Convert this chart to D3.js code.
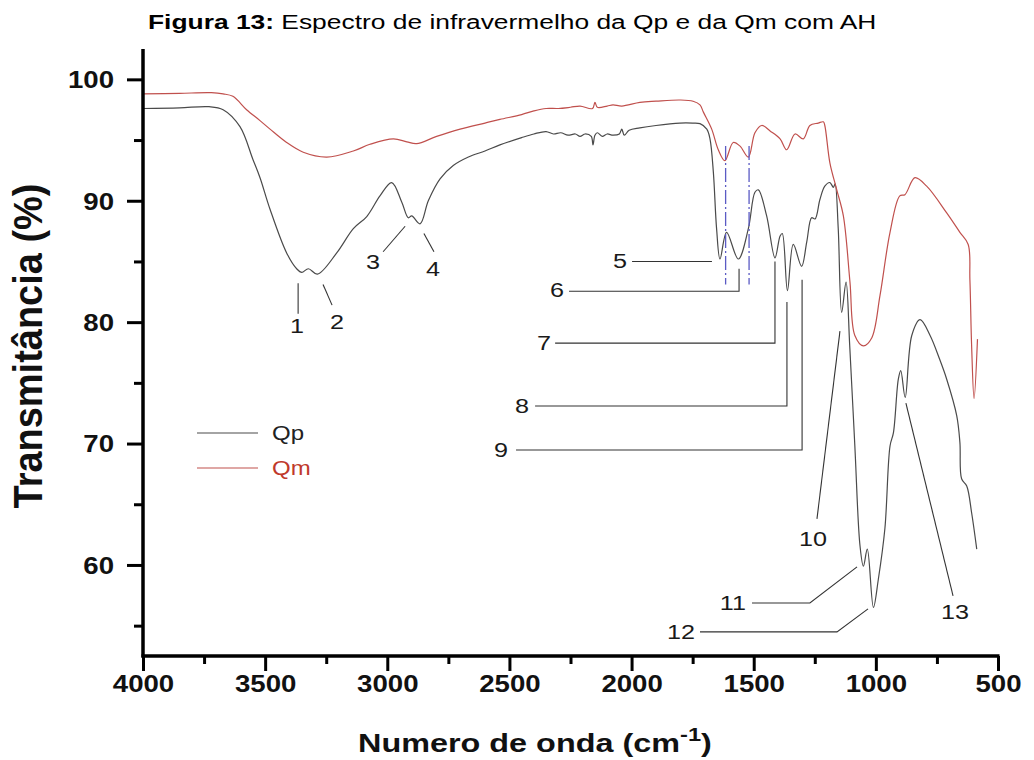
<!DOCTYPE html>
<html><head><meta charset="utf-8">
<script src="https://cdn.jsdelivr.net/npm/d3@7/dist/d3.min.js"></script>
<style>
body{margin:0;background:#fff}
text{font-family:"Liberation Sans",Arial,Helvetica,sans-serif}
</style>
</head><body>
<svg id="chart" width="1034" height="760"></svg>
<script>
// ---------------- DATA ----------------
const qpWave = [4000,3850,3730,3672,3603,3550,3521,3480,3412,3371,3350,3323,3286,3207,3139,3084,3030,2982,2941,2914,2900,2866,2832,2784,2730,2668,2600,2539,2450,2400,2350,2320,2290,2260,2230,2211,2190,2165,2158,2150,2140,2120,2100,2076,2050,2040,2030,2010,1966,1900,1802,1750,1720,1692,1679,1665,1652,1638,1611,1563,1522,1495,1481,1447,1413,1392,1383,1362,1338,1304,1283,1263,1249,1229,1209,1188,1174,1167,1154,1140,1122,1107,1086,1065,1051,1035,1010,990,963,942,928,908,898,880,853,819,778,740,710,669,656,649,628,608,587];
const qpT    = [97.6,97.65,97.75,97.5,96.1,93.4,91.9,89.3,85.7,84.4,84.1,84.4,83.95,85.7,87.7,88.7,90.4,91.5,89.9,88.6,88.75,88.1,90.0,91.8,92.9,93.6,94.1,94.6,95.2,95.5,95.7,95.5,95.6,95.4,95.5,95.3,95.5,95.3,94.6,95.4,95.6,95.3,95.5,95.4,95.5,95.9,95.4,95.8,96.0,96.2,96.4,96.4,96.35,95.9,95.1,92.3,87.7,85.2,87.4,85.2,87.7,90.7,90.9,88.75,85.3,87.1,87.3,82.6,86.4,84.6,86.6,88.6,88.5,90.1,91.2,91.5,91.1,91.4,87.7,80.8,83.3,78.05,69.8,61.6,59.9,61.3,56.5,58.8,63.0,69.8,70.9,75.3,76.0,73.8,78.9,80.2,78.9,77.0,75.3,72.3,70.1,67.1,66.5,64.3,61.3];

const qmWave = [4000,3850,3720,3672,3632,3576,3521,3480,3412,3344,3248,3139,3071,2975,2920,2880,2798,2702,2600,2539,2450,2400,2350,2300,2250,2211,2160,2150,2140,2100,2076,2040,1966,1900,1802,1748,1720,1706,1672,1645,1618,1584,1556,1522,1495,1467,1433,1392,1365,1331,1297,1270,1236,1215,1209,1188,1160,1133,1106,1086,1051,1017,983,942,902,881,840,792,710,656,622,615,608,598,584];
const qmT    = [98.8,98.85,98.9,98.8,98.6,97.5,96.6,95.9,94.8,94.0,93.6,94.1,94.65,95.1,94.85,94.7,95.3,95.9,96.4,96.7,97.1,97.4,97.6,97.6,97.7,97.8,97.6,98.1,97.7,97.8,97.9,97.8,98.1,98.2,98.3,98.2,97.9,97.3,95.9,94.2,93.3,94.8,94.5,93.6,95.6,96.2,95.75,95.1,94.2,95.5,95.1,96.2,96.4,96.5,96.2,93.1,90.9,88.75,83.3,78.9,78.05,78.7,82.2,87.4,90.4,90.5,91.9,91.2,89.0,87.4,86.4,83.5,78.05,73.7,78.6];

const seriesNames = ["Qp","Qm"];
const xTickValues = [4000,3500,3000,2500,2000,1500,1000,500];
const xMinorTicks = [3750,3250,2750,2250,1750,1250,750];
const yTickValues = [60,70,80,90,100];
const yMinorTicks = [55,65,75,85,95];
const dashWaves = [1615,1519];

// band annotations: label, leader polyline [wave,T], text anchor point [wave,T], text-anchor
const bandLabels = ["1","2","3","4","5","6","7","8","9","10","11","12","13"];
const bandLeaders = [
  [[3365,83.2],[3365,80.7]],
  [[3263,83.1],[3226,81.4]],
  [[2927,87.9],[3017,85.8]],
  [[2850,87.3],[2809,85.8]],
  [[1998,85.0],[1671,85.0]],
  [[2256,82.55],[1560,82.55],[1560,84.4]],
  [[2313,78.27],[1413,78.27],[1413,85.0]],
  [[2395,73.09],[1364,73.09],[1364,81.65]],
  [[2473,69.47],[1302,69.47],[1302,83.5]],
  [[1241,63.8],[1147,79.26]],
  [[1507,56.87],[1270,56.87],[1077,59.84]],
  [[1720,54.49],[1159,54.49],[1032,56.38]],
  [[877,73.33],[684,57.45]]
];
const bandTextPos = [[3370,79.1],[3206,79.4],[3058,84.4],[2813,83.8],[2019,84.5],[2277,82.06],[2330,77.7],[2420,72.5],[2506,68.9],[1257,61.56],[1532,56.3],[1740,53.9],[676,55.56]];
const bandAnchor = ["middle","middle","middle","middle","end","end","end","end","end","middle","end","end","middle"];

// ---------------- DRAW ----------------
const svg = d3.select("#chart");
const SX = 1.2; // horizontal stretch of the original picture's text

const x = d3.scaleLinear().domain([4000,500]).range([143,998]);
const y = d3.scaleLinear().domain([52.5,102.5]).range([656,49]);

const line = d3.line().x(d=>x(d[0])).y(d=>y(d[1])).curve(d3.curveCatmullRom.alpha(0.5));

// curves
svg.append("path").datum(qpWave.map((w,i)=>[w,qpT[i]]))
  .attr("d",line).attr("fill","none").attr("stroke","#4a4a4a").attr("stroke-width",1.2);
svg.append("path").datum(qmWave.map((w,i)=>[w,qmT[i]]))
  .attr("d",line).attr("fill","none").attr("stroke","#c0504d").attr("stroke-width",1.2);

// dashed blue markers
dashWaves.forEach(w=>{
  svg.append("line").attr("x1",x(w)).attr("x2",x(w)).attr("y1",y(94.5)).attr("y2",y(83.1))
    .attr("stroke","#5b5bc4").attr("stroke-width",1.3).attr("stroke-dasharray","14,3,2,3");
});

// annotations
const lineGen = d3.line().x(d=>x(d[0])).y(d=>y(d[1]));
bandLabels.forEach((lab,i)=>{
  svg.append("path").attr("d",lineGen(bandLeaders[i])).attr("fill","none")
    .attr("stroke","#333").attr("stroke-width",1.1);
  const p = bandTextPos[i];
  svg.append("text").attr("transform",`translate(${x(p[0])},${y(p[1])}) scale(${SX},1)`)
    .attr("text-anchor",bandAnchor[i]).attr("font-size",21).attr("fill","#1a1a1a").text(lab);
});

// axes
const axisG = svg.append("g");
const yAxis = axisG.append("g").attr("transform","translate(143,0)")
  .call(d3.axisLeft(y).tickValues(yTickValues).tickSize(16).tickPadding(13).tickFormat(d3.format("d")));
const yMinor = axisG.append("g").attr("transform","translate(143,0)")
  .call(d3.axisLeft(y).tickValues(yMinorTicks).tickSize(9).tickFormat(""));
const xAxis = axisG.append("g").attr("transform","translate(0,656)")
  .call(d3.axisBottom(x).tickValues(xTickValues).tickSize(15).tickPadding(5).tickFormat(d3.format("d")));
const xMinor = axisG.append("g").attr("transform","translate(0,656)")
  .call(d3.axisBottom(x).tickValues(xMinorTicks).tickSize(8).tickFormat(""));

[yAxis,yMinor,xAxis,xMinor].forEach(g=>{
  g.selectAll(".domain").remove();
  g.selectAll(".tick line").attr("stroke","#000").attr("stroke-width",3);
});
// axis lines
axisG.append("line").attr("x1",143).attr("x2",143).attr("y1",y(102.5)).attr("y2",657.5)
  .attr("stroke","#000").attr("stroke-width",3.5);
axisG.append("line").attr("x1",141.5).attr("x2",999.5).attr("y1",656).attr("y2",656)
  .attr("stroke","#000").attr("stroke-width",3.5);

yAxis.selectAll(".tick text").each(function(){
  const t=d3.select(this); const xx=+t.attr("x");
  t.attr("x",xx/SX).attr("transform",`scale(${SX},1)`).attr("dy","0.36em")
   .attr("font-size",23).attr("font-weight","bold").attr("fill","#111").attr("font-family",null);
});
xAxis.selectAll(".tick text").each(function(){
  const t=d3.select(this);
  t.attr("transform",`scale(${SX},1)`).attr("font-size",23).attr("font-weight","bold")
   .attr("fill","#111").attr("font-family",null);
});

// legend
const legendColors = ["#4a4a4a","#c0504d"];
const legendText = ["#222","#c0392b"];
seriesNames.forEach((n,i)=>{
  const ly = 433 + i*35;
  svg.append("line").attr("x1",197).attr("x2",258).attr("y1",ly).attr("y2",ly)
    .attr("stroke",legendColors[i]).attr("stroke-width",1.2);
  svg.append("text").attr("transform",`translate(272,${ly+7}) scale(${SX},1)`)
    .attr("font-size",20).attr("fill",legendText[i]).text(n);
});

// title
const title = svg.append("text").attr("font-size",21).attr("fill","#000");
title.append("tspan").attr("font-weight","bold").text("Figura 13:");
title.append("tspan").text(" Espectro de infravermelho da Qp e da Qm com AH");
{
  const w = title.node().getComputedTextLength();
  const s = 729 / w;
  title.attr("transform",`translate(148,29) scale(${s},1)`);
}

// x title
const xt = svg.append("text").attr("font-size",26).attr("font-weight","bold").attr("fill","#111");
xt.append("tspan").text("Numero de onda (cm");
xt.append("tspan").attr("font-size",19).attr("dy",-11).text("-1");
xt.append("tspan").attr("dy",11).text(")");
{
  const w = xt.node().getComputedTextLength();
  const s = 354 / w;
  xt.attr("transform",`translate(${535 - 354/2},752) scale(${s},1)`);
}

// y title
const yt = svg.append("text").attr("font-size",10).attr("font-weight","bold").attr("fill","#111")
  .attr("text-anchor","middle").text("Transmitância (%)");
{
  const w = yt.node().getComputedTextLength();
  const fs = 10 * 325 / w;
  yt.attr("font-size",fs).attr("transform",`translate(42,346) scale(1.05,1) rotate(-90)`);
}
</script>
</body></html>
